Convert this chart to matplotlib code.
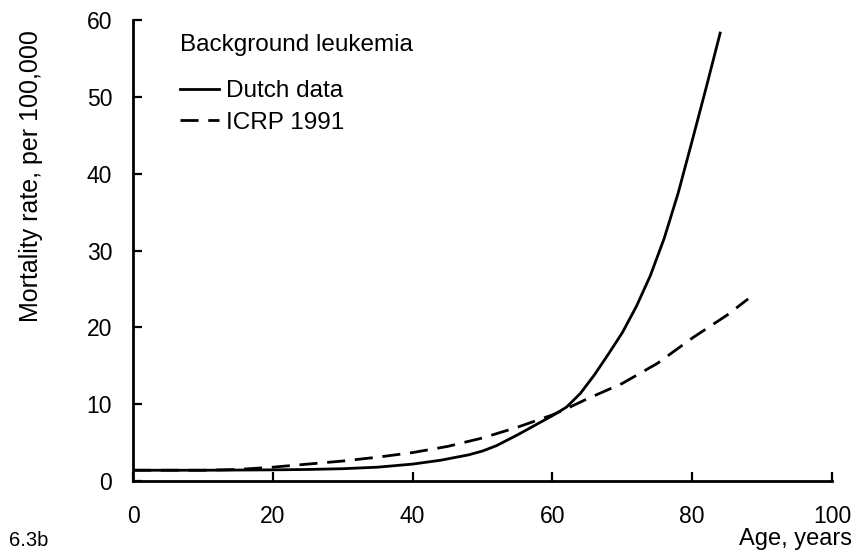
import matplotlib
matplotlib.use("Agg")
import matplotlib.pyplot as plt

plt.rcParams['font.family'] = ['Liberation Sans', 'DejaVu Sans']

# values
dutch_age = [0, 10, 20, 25, 30, 35, 40, 44, 48, 50, 52, 55, 58, 60, 62, 64, 66, 68, 70, 72, 74, 76, 78, 80, 82, 84]
dutch_rate = [1.4, 1.4, 1.45, 1.5, 1.6, 1.8, 2.2, 2.7, 3.4, 3.9, 4.6, 6.0, 7.5, 8.5, 9.6, 11.4, 13.8, 16.5, 19.3, 22.7, 26.7, 31.6, 37.5, 44.3, 51.2, 58.3]
icrp_age = [0, 10, 15, 20, 25, 30, 35, 40, 45, 50, 55, 60, 62, 65, 70, 75, 80, 85, 88]
icrp_rate = [1.4, 1.4, 1.5, 1.8, 2.2, 2.6, 3.1, 3.7, 4.5, 5.6, 7.0, 8.6, 9.4, 10.7, 12.7, 15.3, 18.6, 21.6, 23.7]
x_ticks = [0, 20, 40, 60, 80, 100]
y_ticks = [0, 10, 20, 30, 40, 50, 60]

fig = plt.figure(figsize=(8.58, 5.58), dpi=100)
ax = fig.add_axes([133/858, 1 - 481/558, (832 - 133)/858, (481 - 20)/558])

ax.plot(dutch_age, dutch_rate, color='black', lw=2.0, label='Dutch data')
ax.plot(icrp_age, icrp_rate, color='black', lw=2.0, dashes=(6.5, 3.5), label='ICRP 1991')

ax.set_xlim(0, 100)
ax.set_ylim(0, 60)
ax.set_xticks(x_ticks)
ax.set_yticks(y_ticks)
for side in ['top', 'right']:
    ax.spines[side].set_visible(False)
for side in ['left', 'bottom']:
    ax.spines[side].set_linewidth(2.0)
ax.tick_params(direction='in', length=6.5, width=1.6, labelsize=16.5)
ax.tick_params(axis='x', pad=17)
ax.tick_params(axis='y', pad=15)

leg = ax.legend(title='Background leukemia', loc='upper left', bbox_to_anchor=(0.05, 0.995),
                frameon=False, fontsize=17.5, title_fontsize=17.5, handlelength=1.6,
                handletextpad=0.3, labelspacing=0.4, alignment='left', borderpad=0)
leg._legend_box.sep = 17

fig.text(31/858, 1 - 176/558, 'Mortality rate, per 100,000', rotation=90,
         ha='center', va='center', fontsize=18)
fig.text(852/858, 1 - 539/558, 'Age, years', ha='right', va='center', fontsize=17)
fig.text(9/858, 1 - 541/558, '6.3b', ha='left', va='center', fontsize=14.5)

fig.savefig('out.png', dpi=100)
